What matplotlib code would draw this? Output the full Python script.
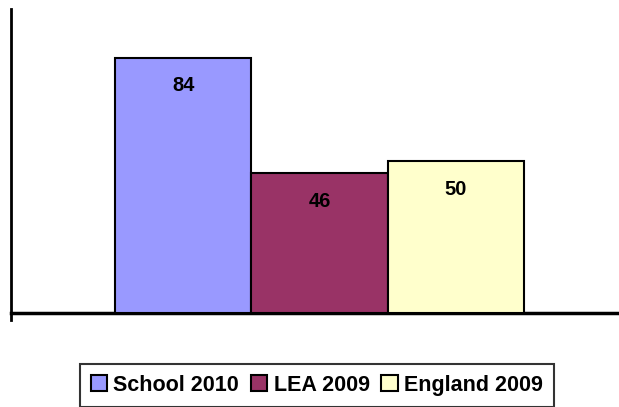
import matplotlib
matplotlib.use("Agg")
import matplotlib.pyplot as plt
from matplotlib.patches import Patch

series = ["School 2010", "LEA 2009", "England 2009"]
values = [84, 46, 50]
colors = ["#9999FF", "#993366", "#FFFFCC"]

plt.rcParams['font.family'] = ['Liberation Sans', 'DejaVu Sans']

fig = plt.figure(figsize=(6.19, 4.07), dpi=100)
ax = fig.add_axes([11/619, 1-313/407, 1-11/619, (313-9)/407])

x = list(range(len(values)))
bars = ax.bar(x, values, width=1.0, color=colors, edgecolor="black", linewidth=1.5, zorder=3)
for xi, v in zip(x, values):
    ax.text(xi, v - 9.3, str(v), ha="center", va="center", fontsize=14.5, fontweight="bold")

ax.set_xlim(-1.265, 3.199)
ax.set_ylim(0, 100)
ax.set_xticks([])
ax.set_yticks([])
for s in ["top", "right"]:
    ax.spines[s].set_visible(False)
ax.spines["left"].set_linewidth(2)
ax.spines["bottom"].set_linewidth(2.5)
ax.plot([0, 0], [0, -0.022], transform=ax.transAxes, color="black", lw=2, clip_on=False)

handles = [Patch(facecolor=c, edgecolor="black", linewidth=1.5) for c in colors]
leg = fig.legend(handles, series, loc="upper left", bbox_to_anchor=(80/619, 1-364/407),
                 ncol=3, frameon=True, fancybox=False,
                 prop={'family': ['Liberation Sans'], 'weight': 'bold', 'size': 15.5},
                 handlelength=0.75, handleheight=0.75, handletextpad=0.3, columnspacing=0.55,
                 borderpad=0.5, borderaxespad=0)
leg.get_frame().set_edgecolor("black")
leg.get_frame().set_linewidth(1.5)

fig.savefig("out.png", dpi=100)
